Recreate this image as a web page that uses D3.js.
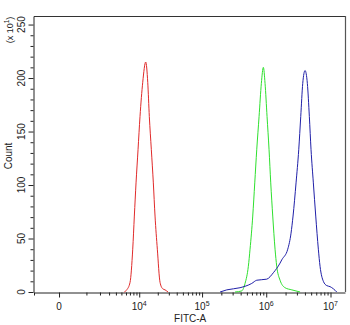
<!DOCTYPE html>
<html><head><meta charset="utf-8">
<script src="https://cdn.jsdelivr.net/npm/d3@7"></script>
<style>
body{margin:0;background:#fff}
svg{display:block;font-family:"Liberation Sans",Arial,sans-serif}
</style>
</head><body>
<svg id="chart" width="350" height="325"></svg>
<script>
// ---- data ----
const redX   = [5600, 6180, 7030, 7800, 8300, 8860, 9560, 10300, 11420, 12780, 13780, 14620, 15760, 16970, 18070, 19680, 21740, 24000, 26110, 29140];
const redY   = [0, 2, 9, 40, 71, 102, 133, 164, 196, 215, 196, 164, 133, 102, 71, 40, 9, 3, 2, 0];
const greenX = [327000, 415000, 468000, 527000, 560000, 617000, 663000, 712000, 774000, 840000, 902000, 959000, 1030000, 1107000, 1176000, 1263000, 1372000, 1458000, 1641000, 1963000, 2500000, 3359000];
const greenY = [0, 1, 8, 24, 40, 71, 102, 133, 164, 195, 210, 195, 164, 133, 102, 71, 40, 24, 11, 4, 2, 0];
const blueX  = [191000, 243000, 391000, 595000, 712000, 1018000, 1291000, 1641000, 1744000, 2162000, 2433000, 2614000, 2911000, 3206000, 3444000, 3699000, 4018000, 4363000, 4686000, 4980000, 5409000, 5891000, 6469000, 6876000, 7737000, 8734000, 9835000, 11070000, 12500000];
const blueY  = [0, 2, 4, 8, 11, 12, 18, 27, 30, 40, 55, 71, 102, 133, 164, 195, 207, 195, 164, 133, 102, 71, 40, 24, 10, 6, 5, 3, 0];

const xMajorTicks = [0, 1e4, 1e5, 1e6, 1e7];
const xMajorBase  = ["0", "10", "10", "10", "10"];
const xMajorExp   = ["", "4", "5", "6", "7"];
const xMinorTicks = [1000,2000,3000,4000,5000,6000,7000,8000,9000,
  2e4,3e4,4e4,5e4,6e4,7e4,8e4,9e4,
  2e5,3e5,4e5,5e5,6e5,7e5,8e5,9e5,
  2e6,3e6,4e6,5e6,6e6,7e6,8e6,9e6];
const yMajorTicks = [0, 50, 100, 150, 200, 250];
const yMinorTicks = [10,20,30,40,60,70,80,90,110,120,130,140,160,170,180,190,210,220,230,240];
const xTitle = "FITC-A";
const yTitle = "Count";
const yMultiplier = ["(x 10", "1", ")"];

// ---- layout ----
const L = 34, R = 345, T = 16, B = 292;
const svg = d3.select("#chart");

const x = d3.scaleSymlog().constant(600).domain([-870, 1.68e7]).range([L, R]);
const y = d3.scaleLinear().domain([0, 258]).range([B, T]);

const axisColor = "#222";

// frame top/right
svg.append("line").attr("x1", L).attr("x2", R).attr("y1", T + 0.5).attr("y2", T + 0.5)
  .attr("stroke", "#333").attr("stroke-width", 1.2);
svg.append("line").attr("x1", R + 0.5).attr("x2", R + 0.5).attr("y1", T).attr("y2", B)
  .attr("stroke", "#555").attr("stroke-width", 1.2);

// x axis
const gx = svg.append("g").attr("transform", `translate(0,${B + 0.5})`);
gx.call(d3.axisBottom(x).tickValues(xMajorTicks).tickSize(5).tickSizeOuter(0).tickFormat(""));
gx.append("g").call(d3.axisBottom(x).tickValues(xMinorTicks.concat([x.domain()[0]])).tickSize(3).tickSizeOuter(0).tickFormat(""))
  .select(".domain").remove();
gx.selectAll("path,line").attr("stroke", axisColor).attr("stroke-width", 1);

xMajorTicks.forEach((v, i) => {
  const t = svg.append("text").attr("x", x(v)).attr("y", B + 18)
    .attr("text-anchor", "middle").attr("font-size", 10).attr("fill", "#222");
  t.append("tspan").text(xMajorBase[i]);
  if (xMajorExp[i]) t.append("tspan").attr("dy", -4).attr("font-size", 7).text(xMajorExp[i]);
});
svg.append("text").attr("x", (x(1e5) + x(1e6)) / 2 - 44).attr("y", B + 30)
  .attr("text-anchor", "middle").attr("font-size", 10).attr("fill", "#222").text(xTitle);

// y axis
const gy = svg.append("g").attr("transform", `translate(${L - 0.5},0)`);
gy.call(d3.axisLeft(y).tickValues(yMajorTicks).tickSize(5).tickSizeOuter(0).tickFormat(""));
gy.append("g").call(d3.axisLeft(y).tickValues(yMinorTicks).tickSize(3).tickSizeOuter(0).tickFormat(""))
  .select(".domain").remove();
gy.selectAll("path,line").attr("stroke", axisColor).attr("stroke-width", 1);

yMajorTicks.forEach(v => {
  svg.append("text").attr("transform", `translate(25,${y(v)}) rotate(-90)`)
    .attr("text-anchor", "middle").attr("font-size", 10).attr("fill", "#222").text(v);
});
svg.append("text").attr("transform", `translate(12,${(T + B) / 2 + 2}) rotate(-90)`)
  .attr("text-anchor", "middle").attr("font-size", 10).attr("fill", "#222").text(yTitle);
const ym = svg.append("text").attr("transform", `translate(13,30) rotate(-90)`)
  .attr("text-anchor", "middle").attr("font-size", 9).attr("fill", "#222");
ym.append("tspan").text(yMultiplier[0]);
ym.append("tspan").attr("dy", -4).attr("font-size", 6.5).text(yMultiplier[1]);
ym.append("tspan").attr("dy", 4).text(yMultiplier[2]);

// curves
const line = d3.line().x(d => x(d[0])).y(d => y(d[1])).curve(d3.curveMonotoneX);
const series = [
  {xs: redX, ys: redY, color: "#e02a2a"},
  {xs: greenX, ys: greenY, color: "#2ee02e"},
  {xs: blueX, ys: blueY, color: "#2020a8"}
];
series.forEach(s => {
  svg.append("path").datum(s.xs.map((v, i) => [v, s.ys[i]]))
    .attr("d", line).attr("fill", "none").attr("stroke", s.color).attr("stroke-width", 1);
});
</script>
</body></html>
